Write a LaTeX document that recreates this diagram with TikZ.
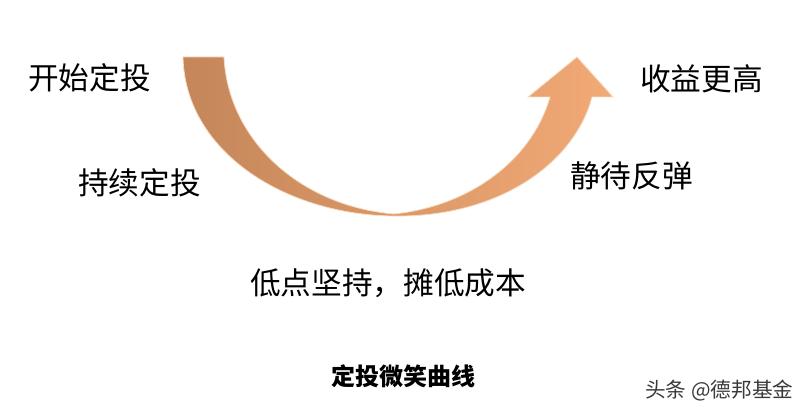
\documentclass[tikz,border=0pt]{standalone}
\usepackage{fontspec}
\newfontfamily\cjk{Noto Sans CJK SC}
\usetikzlibrary{calc,positioning}
\definecolor{smileL}{HTML}{C4865A}
\definecolor{smileM}{HTML}{D8966A}
\definecolor{smileR}{HTML}{F2AA76}
\definecolor{glowc}{HTML}{F6DCC2}
\definecolor{markc}{HTML}{3A3A3A}
\tikzset{
  lbl/.style={font=\cjk\fontsize{23}{26}\selectfont,inner sep=0pt,anchor=west},
  captxt/.style={font=\cjk\bfseries\fontsize{18}{20}\selectfont,inner sep=0pt},
  wmark/.style={font=\cjk\fontsize{15.5}{17}\selectfont,inner sep=0pt,anchor=west,markc},
  smile/.style={left color=smileL,middle color=smileM,right color=smileR,draw=glowc,line width=0.6pt,line join=miter}
}
\begin{document}
\begin{tikzpicture}[x=0.75pt,y=-0.75pt]
\useasboundingbox (0,0) rectangle (806,416);
% smile arrow
\coordinate (TL) at (183,57);
\coordinate (TR) at (224,57);
\coordinate (B1) at (394,214);
\coordinate (B2) at (392,216);
\coordinate (SI) at (550,97);
\coordinate (HL) at (528,97);
\coordinate (TIP) at (577,57);
\coordinate (HR) at (613,97);
\coordinate (SO) at (592,97);
\path[smile] (TL) -- (TR)
  .. controls (228,140) and (300,206) .. (B1)
  .. controls (470,206) and (532,160) .. (SI)
  -- (HL) -- (TIP) -- (HR) -- (SO)
  .. controls (575,162) and (500,218) .. (B2)
  .. controls (282,214) and (185,150) .. (TL) -- cycle;
% labels
\node[lbl] (start) at (28,78) {开始定投};
\node[lbl] (keep) at (78,183) {持续定投};
\node[lbl] (high) at (640,79) {收益更高};
\node[lbl] (wait) at (570,176) {静待反弹};
\node[lbl] (low) at (250,283) {低点坚持，摊低成本};
\node[captxt] (title) at (403,376) {定投微笑曲线};
\node[wmark] (mark) at (645,391) {头条 @德邦基金};
\end{tikzpicture}
\end{document}
